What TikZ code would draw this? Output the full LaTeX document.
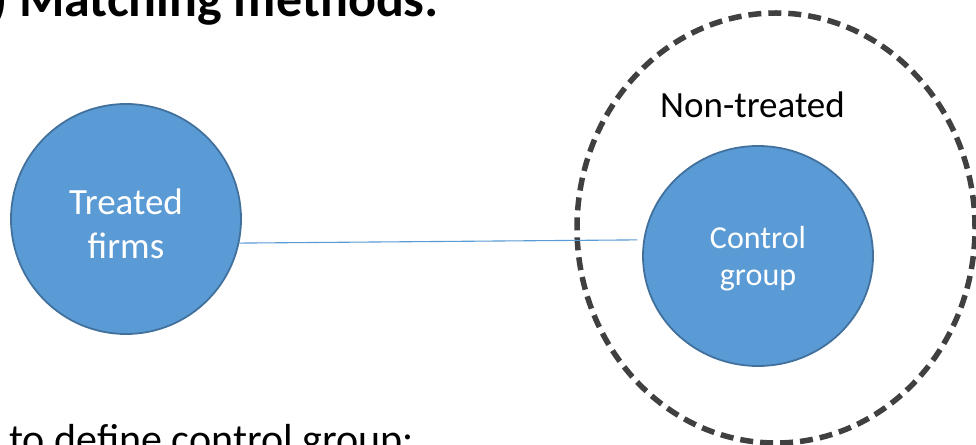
\documentclass[tikz,border=0pt]{standalone}
\usepackage{fontspec}
\setmainfont{Carlito}
\usetikzlibrary{shapes.geometric}
\definecolor{fillblue}{HTML}{5B9BD5}
\definecolor{edgeblue}{HTML}{41719C}
\definecolor{dashgray}{HTML}{404040}
\tikzset{
  firmcircle/.style={circle, fill=fillblue, draw=edgeblue, line width=1.8pt, inner sep=0pt},
  ctrlellipse/.style={ellipse, fill=fillblue, draw=edgeblue, line width=1.8pt, inner sep=0pt},
  inlabel/.style={text=white, align=center, inner sep=0pt},
  poolring/.style={ellipse, draw=dashgray, line width=5.5pt, dash pattern=on 13pt off 7pt, inner sep=0pt},
  link/.style={draw=fillblue, line width=1.1pt},
  plain/.style={inner sep=0pt, anchor=base west}
}
\begin{document}
\begin{tikzpicture}[x=1pt,y=1pt]
\clip (0,0) rectangle (976,444);
\fill[white] (0,0) rectangle (976,444);
% dashed pool of non-treated firms
\node[poolring, minimum width=398pt, minimum height=430pt] (pool) at (776,216) {};
% treated firms
\node[firmcircle, minimum size=230pt] (treated) at (126,225) {};
\node[inlabel, font=\fontsize{37}{44}\selectfont] (treatedtext) at (126,220) {Treated\\firms};
% control group
\node[ctrlellipse, minimum width=230pt, minimum height=220pt] (ctrl) at (758,188) {};
\node[inlabel, font=\fontsize{32}{37}\selectfont] (ctrltext) at (758,185) {Control\\group};
% label
\node[plain, font=\fontsize{37}{44}\selectfont] (nt) at (660,326) {Non-treated};
% connector
\draw[link] (treated.-12.7) -- ([xshift=-6pt]ctrl.172.6);
% title and bottom text
\node[plain, font=\bfseries\fontsize{52}{60}\selectfont] (title) at (-9,427) {) Matching methods:};
\node[plain, font=\fontsize{42}{50}\selectfont] (bottom) at (9,-9) {to define control group:};
\end{tikzpicture}
\end{document}
